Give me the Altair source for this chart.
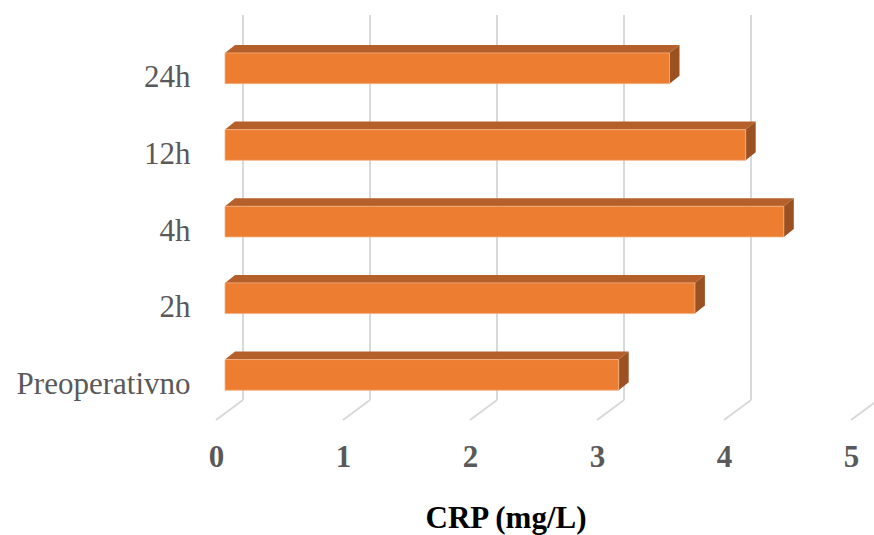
import altair as alt
import pandas as pd

# ---- data ----
categories = ["Preoperativno", "2h", "4h", "12h", "24h"]
crp_values = [3.1, 3.7, 4.4, 4.1, 3.5]
x_ticks = [0, 1, 2, 3, 4, 5]
x_title = "CRP (mg/L)"

# ---- layout / style ----
W, H = 635, 405
PAD = {"left": 216, "top": 15, "right": 23, "bottom": 115}
X_DOMAIN = [0, 5]
Y_DOMAIN = [-0.3483, 4.9354]
px_x = (X_DOMAIN[1] - X_DOMAIN[0]) / W
px_y = (Y_DOMAIN[1] - Y_DOMAIN[0]) / H

FRONT = 9 * px_x          # bar front plane offset from floor front
DX = 10 * px_x            # bar depth (x)
DY = 8 * px_y             # bar depth (y)
WALL = 27 * px_x          # back wall offset
FLOOR_BACK = Y_DOMAIN[0] + 20 * px_y
BAR_SHIFT = 0.24
HALF = 15.35 * px_y

ORANGE = "#ED7D31"
TOP = "#B5602A"
SIDE = "#9B5122"
GRID = "#D9D9D9"
FONT = "'Liberation Serif', 'Times New Roman', 'DejaVu Serif', serif"
LABEL = "#595959"

xs = alt.Scale(domain=X_DOMAIN, nice=False, zero=False)
ys = alt.Scale(domain=Y_DOMAIN, nice=False, zero=False)

# ---- tables ----
bars = pd.DataFrame({
    "name": categories,
    "v": crp_values,
    "idx": list(range(len(categories))),
})
bars["x0"] = FRONT
bars["x1"] = FRONT + bars["v"]
bars["ylo"] = bars["idx"] + BAR_SHIFT - HALF
bars["yhi"] = bars["idx"] + BAR_SHIFT + HALF

top_rows, side_rows = [], []
for _, r in bars.iterrows():
    top_rows.append({"name": r["name"], "y": r["yhi"], "xa": r["x0"], "xb": r["x1"]})
    top_rows.append({"name": r["name"], "y": r["yhi"] + DY, "xa": r["x0"] + DX, "xb": r["x1"] + DX})
    side_rows.append({"name": r["name"], "x": r["x1"], "ya": r["ylo"], "yb": r["yhi"]})
    side_rows.append({"name": r["name"], "x": r["x1"] + DX, "ya": r["ylo"] + DY, "yb": r["yhi"] + DY})
top_df = pd.DataFrame(top_rows)
side_df = pd.DataFrame(side_rows)

grid_df = pd.DataFrame({"k": x_ticks})
grid_df["xw"] = grid_df["k"] + WALL
grid_df["yb"] = FLOOR_BACK
grid_df["yt"] = Y_DOMAIN[1]
grid_df["yf"] = Y_DOMAIN[0]

label_expr = "[" + ",".join("'" + c + "'" for c in categories) + "][datum.value]"

x_axis = alt.Axis(
    values=x_ticks, format="d", domain=False, ticks=False, tickSize=0, grid=False,
    labelFont=FONT, labelFontSize=31, labelFontWeight="bold", labelColor=LABEL,
    labelPadding=46.7, labelBaseline="alphabetic", labelFlush=False,
    title=x_title, titleFont=FONT, titleFontSize=31, titleFontWeight="bold",
    titleColor="#000000", titleX=289.5, titleY=107, titleAlign="center",
    titleBaseline="alphabetic",
)
y_axis = alt.Axis(
    values=list(range(len(categories))), labelExpr=label_expr, domain=False,
    ticks=False, tickSize=0, grid=False, labelFont=FONT, labelFontSize=31,
    labelColor=LABEL, labelPadding=26, labelBaseline="alphabetic", title=None,
)

wall = alt.Chart(grid_df).mark_rule(color=GRID, strokeWidth=2).encode(
    x=alt.X("xw:Q", scale=xs, axis=x_axis),
    y=alt.Y("yb:Q", scale=ys, axis=y_axis),
    y2="yt:Q",
)
floor = alt.Chart(grid_df).mark_rule(color=GRID, strokeWidth=2).encode(
    x=alt.X("xw:Q", scale=xs, axis=x_axis),
    y=alt.Y("yb:Q", scale=ys, axis=y_axis),
    x2="k:Q",
    y2="yf:Q",
)
top = alt.Chart(top_df).mark_area(color=TOP, orient="horizontal").encode(
    y=alt.Y("y:Q", scale=ys, axis=y_axis),
    x=alt.X("xa:Q", scale=xs, axis=x_axis, stack=None),
    x2="xb:Q",
    detail="name:N",
)
side = alt.Chart(side_df).mark_area(color=SIDE, orient="vertical").encode(
    x=alt.X("x:Q", scale=xs, axis=x_axis),
    y=alt.Y("ya:Q", scale=ys, axis=y_axis, stack=None),
    y2="yb:Q",
    detail="name:N",
)
front = alt.Chart(bars).mark_rect(color=ORANGE, stroke="#F4B183", strokeWidth=0.8).encode(
    x=alt.X("x0:Q", scale=xs, axis=x_axis),
    x2="x1:Q",
    y=alt.Y("ylo:Q", scale=ys, axis=y_axis),
    y2="yhi:Q",
)

chart = alt.layer(wall, floor, top, side, front).properties(
    width=W, height=H, padding=PAD,
    autosize=alt.AutoSizeParams(type="none"),
    background="white",
).configure_view(stroke=None)

chart.save("out.html", embed_options={"renderer": "svg", "actions": False})
